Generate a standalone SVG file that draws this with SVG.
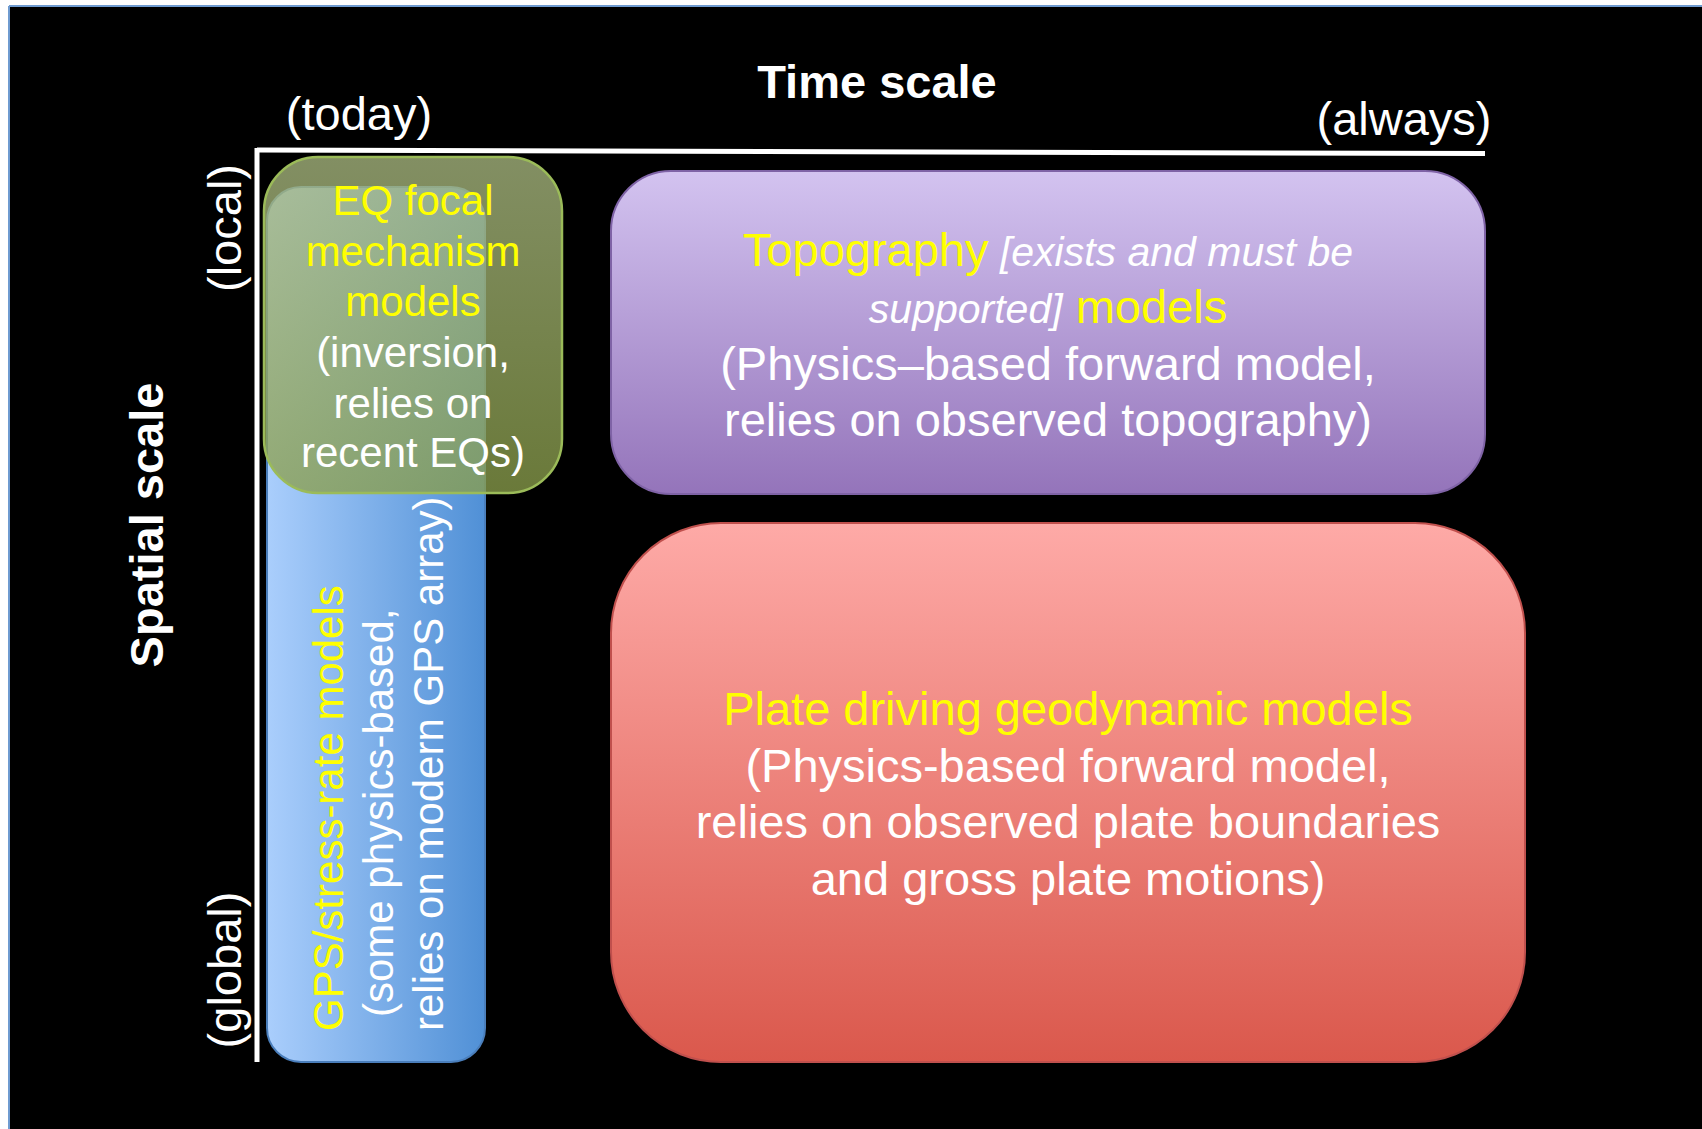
<svg xmlns="http://www.w3.org/2000/svg" width="1702" height="1129" viewBox="0 0 1702 1129">
<style>
text{font-family:"Liberation Sans",Arial,sans-serif;}
.w{fill:#FFFFFF;}
.y{fill:#FFFF00;}
.ax{font-size:47px;fill:#FFFFFF;}
.axb{font-size:47px;font-weight:bold;fill:#FFFFFF;}
.t42{font-size:42px;}
.t47{font-size:47px;}
.it{font-style:italic;font-size:41px;fill:#FFFFFF;}
.axis{stroke:#FFFFFF;stroke-width:5;fill:none;}
</style>
<defs>
<linearGradient id="gPurple" x1="0" y1="0" x2="0" y2="1">
<stop offset="0" stop-color="#D3C3F0"/>
<stop offset="1" stop-color="#9474BA"/>
</linearGradient>
<linearGradient id="gRed" x1="0" y1="0" x2="0" y2="1">
<stop offset="0" stop-color="#FEAAA7"/>
<stop offset="1" stop-color="#DA584C"/>
</linearGradient>
<linearGradient id="gBlue" x1="0" y1="0" x2="1" y2="0">
<stop offset="0" stop-color="#AACEFC"/>
<stop offset="1" stop-color="#5090D6"/>
</linearGradient>
<linearGradient id="gGreen" x1="0" y1="0" x2="0" y2="1">
<stop offset="0" stop-color="#AABA81"/>
<stop offset="1" stop-color="#8A9E4B"/>
</linearGradient>
</defs>
<rect x="0" y="0" width="1702" height="1129" fill="#FFFFFF"/>
<rect x="9" y="6" width="1693" height="1123" fill="#000000"/>
<line x1="9" y1="6" x2="1702" y2="6" stroke="#6F9BD0" stroke-width="2"/>
<line x1="9" y1="6" x2="9" y2="1129" stroke="#6F9BD0" stroke-width="2"/>

<g id="axes">
<line class="axis" x1="257" y1="150" x2="1485" y2="153.5"/>
<line class="axis" x1="257" y1="148" x2="257" y2="1062"/>
<text class="axb" x="877" y="98" text-anchor="middle">Time scale</text>
<text class="ax" x="359" y="130" text-anchor="middle">(today)</text>
<text class="ax" x="1404" y="135" text-anchor="middle">(always)</text>
<text class="ax" transform="translate(241,228) rotate(-90)" text-anchor="middle">(local)</text>
<text class="ax" transform="translate(241,970) rotate(-90)" text-anchor="middle">(global)</text>
<text class="axb" transform="translate(163,525) rotate(-90)" text-anchor="middle">Spatial scale</text>
</g>

<g id="connectors"></g>

<g id="topography">
<rect x="611" y="171" width="874" height="323" rx="60" ry="60" fill="url(#gPurple)" stroke="#7F63A6" stroke-width="2"/>
<text x="1048" y="266" text-anchor="middle"><tspan class="y t47">Topography</tspan><tspan class="it"> [exists and must be</tspan></text>
<text x="1048" y="323" text-anchor="middle"><tspan class="it">supported]</tspan><tspan class="y t47"> models</tspan></text>
<text class="w t47" x="1048" y="380" text-anchor="middle">(Physics–based forward model,</text>
<text class="w t47" x="1048" y="436" text-anchor="middle">relies on observed topography)</text>
</g>

<g id="plate">
<rect x="611" y="523" width="914" height="539" rx="110" ry="110" fill="url(#gRed)" stroke="#C0504D" stroke-width="2"/>
<text class="y t47" x="1068" y="725" text-anchor="middle">Plate driving geodynamic models</text>
<text class="w t47" x="1068" y="782" text-anchor="middle">(Physics-based forward model,</text>
<text class="w t47" x="1068" y="838" text-anchor="middle">relies on observed plate boundaries</text>
<text class="w t47" x="1068" y="895" text-anchor="middle">and gross plate motions)</text>
</g>

<g id="gps">
<rect x="267" y="187" width="218" height="875" rx="34" ry="34" fill="url(#gBlue)" stroke="#4A7EBB" stroke-width="2"/>
<text class="y t42" transform="translate(343,1031) rotate(-90)">GPS/stress-rate models</text>
<text class="w t42" transform="translate(393,1017) rotate(-90)">(some physics-based,</text>
<text class="w t42" transform="translate(443,1031) rotate(-90)">relies on modern GPS array)</text>
</g>

<g id="eq">
<rect x="264" y="157" width="298" height="336" rx="54" ry="54" fill="url(#gGreen)" fill-opacity="0.77" stroke="#9BBB59" stroke-width="2.5"/>
<text class="y t42" x="413" y="215" text-anchor="middle">EQ focal</text>
<text class="y t42" x="413" y="266" text-anchor="middle">mechanism</text>
<text class="y t42" x="413" y="316" text-anchor="middle">models</text>
<text class="w t42" x="413" y="367" text-anchor="middle">(inversion,</text>
<text class="w t42" x="413" y="418" text-anchor="middle">relies on</text>
<text class="w t42" x="413" y="467" text-anchor="middle">recent EQs)</text>
</g>
</svg>
